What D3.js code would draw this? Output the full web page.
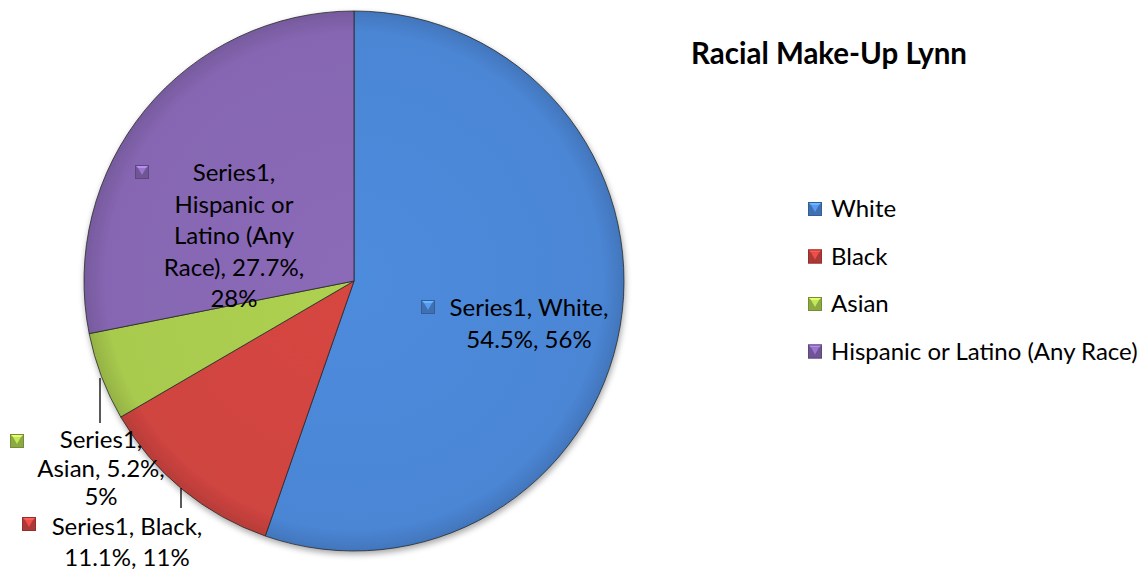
<!DOCTYPE html>
<meta charset="utf-8">
<script src="https://d3js.org/d3.v7.min.js"></script>
<style>
  body { margin: 0; background: #fff; }
  text { font-family: Lato, "Open Sans", sans-serif; fill: #000; }
</style>
<div id="my_dataviz"></div>
<script>

// data
var categories = ["White", "Black", "Asian", "Hispanic or Latino (Any Race)"];
var values = [54.5, 11.1, 5.2, 27.7];
var shownPct = ["56%", "11%", "5%", "28%"];
var colors = ["#4b86d5", "#cf4440", "#a8ca4e", "#8666b2"];

// label text lines (as wrapped in the picture)
var labelLines = [
  ["Series1, White,", "54.5%, 56%"],
  ["Series1, Black,", "11.1%, 11%"],
  ["Series1,", "Asian, 5.2%,", "5%"],
  ["Series1,", "Hispanic or", "Latino (Any", "Race), 27.7%,", "28%"]
];

var width = 1147, height = 576;
var cx = 354, cy = 281, radius = 270;

var svg = d3.select("#my_dataviz")
  .append("svg")
    .attr("width", width)
    .attr("height", height);

var defs = svg.append("defs");
var shadow = defs.append("filter").attr("id", "shadow")
  .attr("x", "-10%").attr("y", "-10%").attr("width", "120%").attr("height", "120%");
shadow.append("feGaussianBlur").attr("in", "SourceAlpha").attr("stdDeviation", 3);
shadow.append("feOffset").attr("dx", 1).attr("dy", 3).attr("result", "b");
shadow.append("feComponentTransfer").append("feFuncA").attr("type", "linear").attr("slope", 0.35);
var merge = shadow.append("feMerge");
merge.append("feMergeNode");
merge.append("feMergeNode").attr("in", "SourceGraphic");

// gradients per slice for a soft bevel look (pie group is centred at 0,0)
colors.forEach(function(c, i) {
  var g = defs.append("radialGradient").attr("id", "grad" + i)
    .attr("gradientUnits", "userSpaceOnUse")
    .attr("cx", 0).attr("cy", 0).attr("r", radius);
  g.append("stop").attr("offset", "0%").attr("stop-color", d3.color(c).brighter(0.1));
  g.append("stop").attr("offset", "92%").attr("stop-color", c);
  g.append("stop").attr("offset", "100%").attr("stop-color", d3.color(c).darker(0.35));
});

var pie = d3.pie().sort(null).value(function(d) { return d; });
var arc = d3.arc().innerRadius(0).outerRadius(radius);
var arcs = pie(values);

var chart = svg.append("g")
  .attr("transform", "translate(" + cx + "," + cy + ")");

chart.append("g").attr("filter", "url(#shadow)")
  .selectAll("path")
  .data(arcs)
  .enter()
  .append("path")
    .attr("d", arc)
    .attr("fill", function(d, i) { return "url(#grad" + i + ")"; })
    .attr("stroke", "#2a2a2a")
    .attr("stroke-width", 0.8);

// small bevelled square marker
function marker(g, x, y, c) {
  var s = 14;
  var m = g.append("g").attr("transform", "translate(" + (x - s / 2) + "," + (y - s / 2) + ")");
  m.append("rect").attr("width", s).attr("height", s).attr("fill", d3.color(c).darker(0.5));
  m.append("path")
    .attr("d", "M0,0 L" + s + ",0 L" + (s - 3) + ",3 L3,3 Z")
    .attr("fill", d3.color(c).brighter(0.9));
  m.append("path")
    .attr("d", "M3,3 L" + (s - 3) + ",3 L" + (s / 2) + "," + (s - 4) + " Z")
    .attr("fill", d3.color(c).brighter(0.4));
  m.append("rect").attr("x", 0.5).attr("y", 0.5).attr("width", s - 1).attr("height", s - 1)
    .attr("fill", "none").attr("stroke", d3.color(c).darker(1)).attr("stroke-width", 1);
}

// data label layout (page coords): marker position, text centre x, first baseline, line step
var labelLayout = [
  { mx: 428, my: 307, tx: 529, ty: 316, step: 31.5 },
  { mx: 29, my: 524, tx: 127, ty: 535, step: 31 },
  { mx: 17, my: 441, tx: 101, ty: 448, step: 28.5 },
  { mx: 142, my: 172, tx: 234, ty: 181, step: 31.5 }
];

// leader lines for the small outside labels
var leaders = [
  { x: 181, y1: 488, y2: 508 },
  { x: 100, y1: 378, y2: 423 }
];
svg.selectAll("line.leader")
  .data(leaders)
  .enter()
  .append("line")
    .attr("x1", function(d) { return d.x; })
    .attr("x2", function(d) { return d.x; })
    .attr("y1", function(d) { return d.y1; })
    .attr("y2", function(d) { return d.y2; })
    .attr("stroke", "#000")
    .attr("stroke-width", 1.3);

var labels = svg.append("g");
labelLayout.forEach(function(L, i) {
  marker(labels, L.mx, L.my, colors[i]);
  var t = labels.append("text")
    .attr("text-anchor", "middle")
    .style("font-size", "24px");
  labelLines[i].forEach(function(line, j) {
    t.append("tspan")
      .attr("x", L.tx)
      .attr("y", L.ty + j * L.step)
      .text(line);
  });
});

// title
svg.append("text")
  .attr("x", 829)
  .attr("y", 64)
  .attr("text-anchor", "middle")
  .style("font-size", "29.5px")
  .style("font-weight", "bold")
  .text("Racial Make-Up Lynn");

// legend
var legend = svg.append("g");
categories.forEach(function(c, i) {
  var y = 209 + i * 47.5;
  marker(legend, 815, y, colors[i]);
  legend.append("text")
    .attr("x", 831)
    .attr("y", y + 8)
    .style("font-size", "24px")
    .text(c);
});

</script>
